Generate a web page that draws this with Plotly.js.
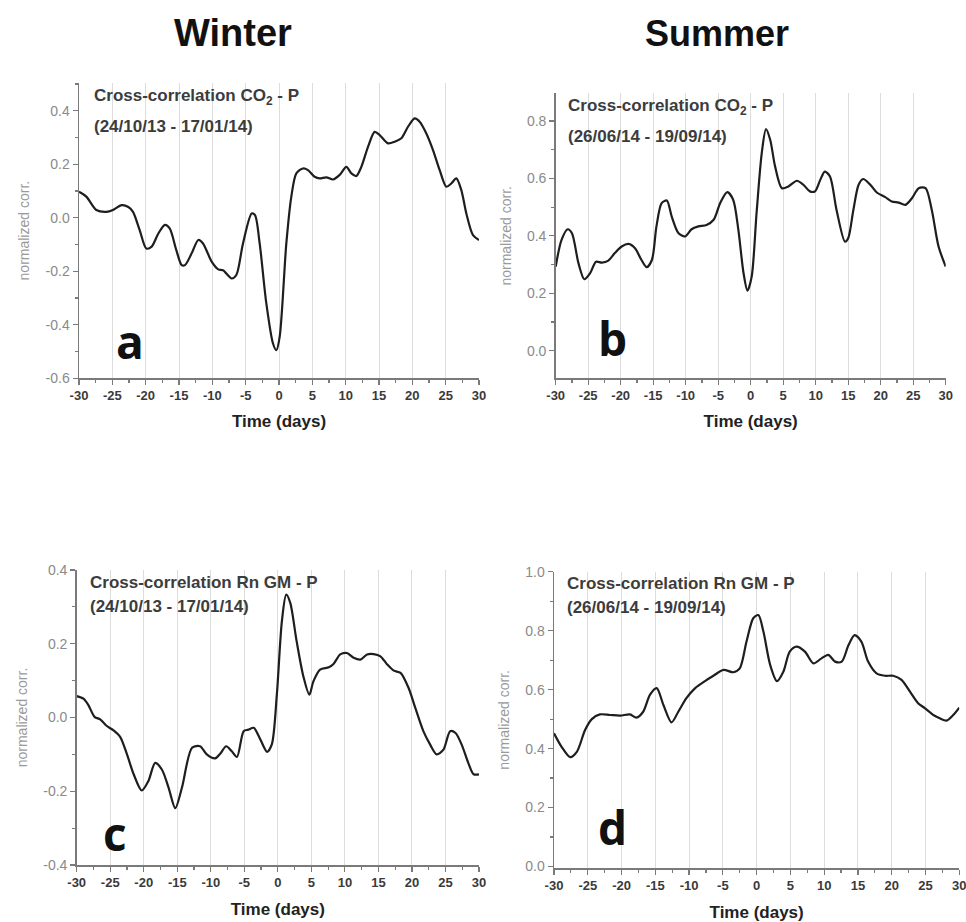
<!DOCTYPE html>
<html>
<head>
<meta charset="utf-8">
<script src="https://cdn.plot.ly/plotly-3.0.1.min.js"></script>
<style>html,body{margin:0;padding:0;background:#fff;}#chart{width:966px;height:922px;}</style>
</head>
<body>
<div id="chart"></div>
<script>
// Panel a: Winter, CO2 - P
const days_a = [-30,-28.9,-27.4,-25.9,-24.9,-23.6,-22.6,-21.9,-20.9,-19.9,-19.1,-18.1,-17.1,-16.4,-15.4,-14.6,-14.1,-13.1,-12.1,-11.4,-10.1,-9.1,-8.4,-7.1,-6.4,-5.4,-4.1,-3.6,-2.9,-1.9,-0.9,-0.4,0.1,1.1,1.85,2.6,3.6,4.35,5.35,6.1,7.1,8.1,9.1,10.1,10.85,11.6,12.35,13.35,14.35,15.1,16.35,17.35,18.35,19.35,20.35,21.1,22.1,23.1,24.1,25.1,25.85,26.6,27.35,28.1,29.1,30];
const corr_a = [0.097,0.079,0.029,0.022,0.029,0.047,0.040,0.022,-0.046,-0.115,-0.108,-0.059,-0.027,-0.040,-0.121,-0.177,-0.177,-0.133,-0.083,-0.096,-0.164,-0.193,-0.196,-0.227,-0.214,-0.096,0.016,0.010,-0.096,-0.320,-0.470,-0.495,-0.445,-0.096,0.079,0.166,0.184,0.178,0.153,0.147,0.151,0.143,0.160,0.190,0.166,0.156,0.190,0.265,0.321,0.309,0.278,0.284,0.297,0.340,0.371,0.359,0.315,0.253,0.178,0.116,0.128,0.147,0.103,0.016,-0.065,-0.083];

// Panel b: Summer, CO2 - P
const days_b = [-30,-29.1,-28.15,-27.5,-26.5,-25.6,-24.7,-23.8,-22.9,-21.9,-20.9,-19.85,-18.8,-17.8,-16.8,-16.0,-15.2,-14.5,-13.7,-12.9,-12.15,-11.1,-10.1,-9.1,-8.05,-6.8,-5.7,-4.7,-3.6,-2.7,-1.9,-1.1,-0.5,0.15,0.9,1.7,2.35,3.0,3.75,4.8,5.8,7.1,8.1,9.1,9.9,10.7,11.4,12.2,13.2,14.5,15.0,15.8,16.6,17.3,18.4,19.4,20.7,21.7,22.75,23.8,24.8,25.85,26.9,27.85,28.9,30];
const corr_b = [0.293,0.386,0.423,0.409,0.305,0.249,0.270,0.310,0.307,0.314,0.340,0.363,0.372,0.357,0.316,0.291,0.316,0.433,0.514,0.523,0.467,0.409,0.398,0.423,0.433,0.438,0.456,0.514,0.552,0.526,0.421,0.270,0.209,0.258,0.479,0.688,0.772,0.735,0.642,0.566,0.572,0.592,0.578,0.555,0.555,0.595,0.624,0.607,0.491,0.380,0.392,0.491,0.578,0.598,0.578,0.551,0.535,0.520,0.516,0.508,0.531,0.566,0.566,0.491,0.363,0.293];

// Panel c: Winter, Rn GM - P
const days_c = [-30,-29,-28.3,-27.3,-26.5,-25.5,-24.5,-23.5,-22.5,-21.5,-20.3,-19.3,-18.3,-17.3,-16.3,-15.3,-14.3,-12.8,-11.6,-10.6,-9.35,-8.6,-7.7,-6.9,-6.1,-5.1,-4.4,-3.6,-2.6,-1.6,-0.9,-0.15,0.6,1.25,1.85,2.8,3.8,4.7,5.3,6.3,7.6,8.3,9.3,10.3,11.3,12.3,13.3,14.3,15.3,16.3,17.3,18.3,19.5,20.5,21.7,22.7,23.7,24.7,25.7,26.5,27.4,28.4,29.2,30];
const corr_c = [0.058,0.051,0.035,0.001,-0.005,-0.023,-0.035,-0.053,-0.100,-0.154,-0.198,-0.172,-0.123,-0.141,-0.190,-0.246,-0.190,-0.082,-0.078,-0.100,-0.111,-0.098,-0.078,-0.091,-0.107,-0.037,-0.033,-0.028,-0.060,-0.093,-0.073,0.062,0.261,0.333,0.311,0.207,0.112,0.062,0.098,0.130,0.136,0.145,0.171,0.175,0.162,0.157,0.171,0.172,0.166,0.144,0.127,0.121,0.080,0.026,-0.037,-0.073,-0.100,-0.087,-0.037,-0.042,-0.073,-0.123,-0.154,-0.154];

// Panel d: Summer, Rn GM - P
const days_d = [-30,-28.9,-27.6,-26.6,-25.4,-24.4,-23.2,-21.7,-20.2,-18.75,-17.8,-16.8,-15.8,-14.8,-13.8,-12.6,-11.6,-10.4,-9.1,-7.65,-6.4,-4.9,-3.45,-2.5,-1.5,-0.5,0.25,1.0,2.0,3.0,3.95,4.9,5.9,7.15,8.4,9.6,10.6,11.6,12.6,13.6,14.5,15.5,16.5,17.75,19.0,20.2,21.45,22.7,23.9,24.9,26.15,27.1,28.1,29.1,30];
const corr_d = [0.452,0.407,0.371,0.390,0.463,0.500,0.516,0.514,0.512,0.516,0.505,0.525,0.582,0.605,0.548,0.489,0.525,0.571,0.605,0.629,0.647,0.667,0.659,0.672,0.763,0.842,0.853,0.797,0.684,0.629,0.661,0.729,0.746,0.729,0.689,0.706,0.718,0.695,0.695,0.751,0.785,0.763,0.695,0.655,0.647,0.647,0.633,0.593,0.554,0.537,0.514,0.503,0.495,0.514,0.539];

// Tick labels
const xTickVals = [-30,-25,-20,-15,-10,-5,0,5,10,15,20,25,30];
const xTickLabels = ["-30","-25","-20","-15","-10","-5","0","5","10","15","20","25","30"];
const yTickVals_a = [-0.6,-0.4,-0.2,0.0,0.2,0.4];
const yTickLabels_a = ["-0.6","-0.4","-0.2","0.0","0.2","0.4"];
const yTickVals_b = [0.0,0.2,0.4,0.6,0.8];
const yTickLabels_b = ["0.0","0.2","0.4","0.6","0.8"];
const yTickVals_c = [-0.4,-0.2,0.0,0.2,0.4];
const yTickLabels_c = ["-0.4","-0.2","0.0","0.2","0.4"];
const yTickVals_d = [0.0,0.2,0.4,0.6,0.8,1.0];
const yTickLabels_d = ["0.0","0.2","0.4","0.6","0.8","1.0"];

const seasons = ["Winter", "Summer"];
const panelLetters = ["a", "b", "c", "d"];
const panelTitles = ["Cross-correlation CO<sub>2</sub> - P", "Cross-correlation CO<sub>2</sub> - P", "Cross-correlation Rn GM - P", "Cross-correlation Rn GM - P"];
const panelPeriods = ["(24/10/13 - 17/01/14)", "(26/06/14 - 19/09/14)", "(24/10/13 - 17/01/14)", "(26/06/14 - 19/09/14)"];
const xTitle = "Time (days)";
const yTitle = "normalized corr.";

const W = 966, H = 922;
const fx = p => p / W;
const fy = p => 1 - p / H;

const lineStyle = {color: '#1e1e1e', width: 2.2, shape: 'spline', smoothing: 0.8};
const traces = [
  {x: days_a, y: corr_a, xaxis: 'x', yaxis: 'y'},
  {x: days_b, y: corr_b, xaxis: 'x2', yaxis: 'y2'},
  {x: days_c, y: corr_c, xaxis: 'x3', yaxis: 'y3'},
  {x: days_d, y: corr_d, xaxis: 'x4', yaxis: 'y4'}
].map(t => Object.assign(t, {type: 'scatter', mode: 'lines', line: lineStyle, hoverinfo: 'skip', showlegend: false}));

function xax(d0, d1, anchor, standoff) {
  return {
    domain: [fx(d0), fx(d1)], anchor: anchor, range: [-30, 30],
    tickmode: 'array', tickvals: xTickVals, ticktext: xTickLabels,
    showline: true, linecolor: '#7a7a7a', linewidth: 1.5, ticks: 'outside', ticklen: 5, tickwidth: 1.2, tickcolor: '#7a7a7a',
    minor: {dtick: 2.5, tick0: -30, ticks: 'outside', ticklen: 3, tickcolor: '#7a7a7a', showgrid: false},
    showgrid: true, gridcolor: '#dcdcdc', gridwidth: 1, zeroline: false,
    ticklabeloverflow: 'allow',
    tickfont: {family: 'Liberation Sans, Arial', size: 13, color: '#3a3a3a', weight: 'bold'},
    title: {text: xTitle, font: {family: 'Liberation Sans, Arial', size: 17, color: '#222', weight: 'bold'}, standoff: standoff},
    fixedrange: true
  };
}
function yax(d0, d1, anchor, range, vals, labels) {
  return {
    domain: [fy(d1), fy(d0)], anchor: anchor, range: range,
    tickmode: 'array', tickvals: vals, ticktext: labels,
    showline: true, linecolor: '#7a7a7a', linewidth: 1.5, ticks: 'outside', ticklen: 5, tickwidth: 1.2, tickcolor: '#7a7a7a',
    minor: {dtick: 0.1, tick0: 0, ticks: 'outside', ticklen: 3, tickcolor: '#7a7a7a', showgrid: false},
    showgrid: false, zeroline: false,
    tickfont: {family: 'Liberation Sans, Arial', size: 14, color: '#8a8a8a'},
    title: {text: yTitle, font: {family: 'Liberation Sans, Arial', size: 14, color: '#9a9a9a'}, standoff: 12},
    fixedrange: true
  };
}

const annots = [];
const ann = (text, x, y, size, opts) => annots.push(Object.assign({text: text, x: fx(x), y: fy(y), xref: 'paper', yref: 'paper', showarrow: false, xanchor: 'left', yanchor: 'middle', font: {family: 'Liberation Sans, Arial', size: size, color: '#3c3c3c', weight: 'bold'}}, opts || {}));

// Season headers
ann(seasons[0], 233, 33, 38, {xanchor: 'center', font: {family: 'Liberation Sans, Arial', size: 38, color: '#111', weight: 'bold'}});
ann(seasons[1], 717, 33, 36, {xanchor: 'center', font: {family: 'Liberation Sans, Arial', size: 36, color: '#111', weight: 'bold'}});

// Panel titles
const tpos = [[92, 97, 126], [566, 107, 136], [88, 582, 606], [565, 583, 607]];
for (let i = 0; i < 4; i++) {
  ann(panelTitles[i], tpos[i][0], tpos[i][1], 17);
  ann(panelPeriods[i], tpos[i][0], tpos[i][2], 17);
}
// Panel letters
const lpos = [[130, 341], [612, 338], [115, 833], [612, 827]];
for (let i = 0; i < 4; i++) {
  ann(panelLetters[i], lpos[i][0], lpos[i][1], 46, {xanchor: 'center', font: {family: 'Open Sans', size: 46, color: '#111', weight: 'bold'}});
}

const layout = {
  width: W, height: H, margin: {l: 0, r: 0, t: 0, b: 0},
  paper_bgcolor: '#fff', plot_bgcolor: '#fff', showlegend: false,
  xaxis: xax(79, 479, 'y', 12),
  yaxis: yax(83, 378.3, 'x', [-0.6, 0.5035], yTickVals_a, yTickLabels_a),
  xaxis2: xax(555.7, 945.7, 'y2', 12),
  yaxis2: yax(93.3, 378.3, 'x2', [-0.096, 0.8965], yTickVals_b, yTickLabels_b),
  xaxis3: xax(76.7, 479, 'y3', 14),
  yaxis3: yax(570, 865, 'x3', [-0.4, 0.4], yTickVals_c, yTickLabels_c),
  xaxis4: xax(554, 959.3, 'y4', 14),
  yaxis4: yax(571.7, 868, 'x4', [-0.005, 1.0], yTickVals_d, yTickLabels_d),
  annotations: annots
};

Plotly.newPlot('chart', traces, layout, {staticPlot: true, displayModeBar: false});
</script>
</body>
</html>
